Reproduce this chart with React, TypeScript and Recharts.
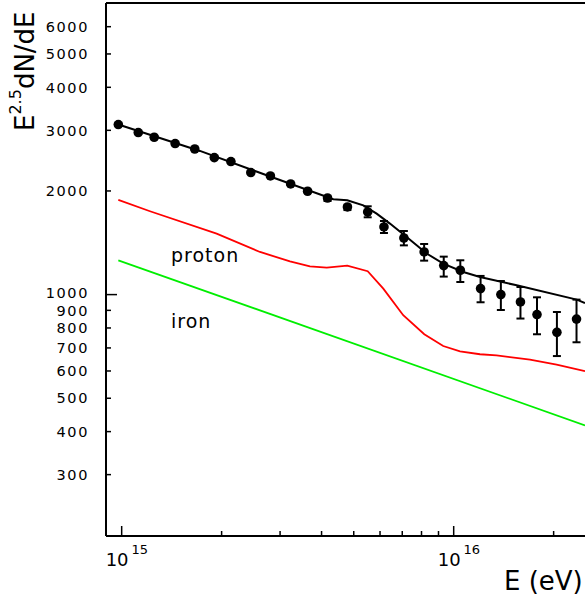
import { ComposedChart, Line, Scatter, ErrorBar, XAxis, YAxis, ReferenceLine } from "recharts";

// measured spectrum (E in eV, E^2.5 dN/dE)
const ENERGY = [
  9.77e14, 1.122e15, 1.253e15, 1.449e15, 1.66e15, 1.901e15, 2.133e15, 2.449e15, 2.805e15,
  3.228e15, 3.631e15, 4.169e15, 4.786e15, 5.508e15, 6.166e15, 7.079e15, 8.147e15, 9.333e15,
  1.047e16, 1.205e16, 1.387e16, 1.589e16, 1.782e16, 2.046e16, 2.344e16,
];
const FLUX = [
  3118, 2956, 2864, 2746, 2648, 2500, 2435, 2262, 2211, 2096, 1996, 1908, 1797, 1738, 1572,
  1460, 1330, 1214, 1177, 1041, 1000, 952, 875, 777, 849,
];
const ERR_LOW = [
  3095, 2935, 2845, 2725, 2630, 2480, 2415, 2245, 2195, 2080, 1980, 1870, 1760, 1677, 1510,
  1390, 1255, 1128, 1088, 950, 902, 852, 767, 663, 727,
];
const ERR_HIGH = [
  3140, 2975, 2885, 2765, 2665, 2520, 2455, 2280, 2230, 2110, 2010, 1925, 1815, 1805, 1636,
  1530, 1403, 1289, 1258, 1133, 1095, 1052, 982, 890, 967,
];

// fitted total
const FIT_E = [
  9.77e14, 1.721e15, 2.734e15, 4.339e15, 4.78e15, 5.342e15, 5.861e15, 6.427e15, 7.216e15,
  8.29e15, 9.3e15, 1.069e16, 1.2e16, 1.548e16, 2.348e16, 2.486e16,
];
const FIT_FLUX = [3118, 2614, 2221, 1892, 1879, 1817, 1719, 1608, 1470, 1316, 1230, 1163, 1125, 1064, 967, 945];

// proton component
const PROTON_E = [
  9.77e14, 1.217e15, 1.932e15, 2.61e15, 3.213e15, 3.69e15, 4.146e15, 4.78e15, 5.508e15,
  6.138e15, 7.047e15, 8.155e15, 9.3e15, 1.045e16, 1.2e16, 1.346e16, 1.697e16, 2.042e16, 2.486e16,
];
const PROTON_FLUX = [1883, 1746, 1504, 1330, 1249, 1208, 1198, 1214, 1169, 1041, 871, 767, 709, 684, 671, 666, 647, 626, 599];

// iron component
const IRON_E = [9.77e14, 2.486e16];
const IRON_FLUX = [1258, 417];

const X_TICKS = [1e15, 2e15, 3e15, 4e15, 5e15, 6e15, 7e15, 8e15, 9e15, 1e16, 2e16];
const Y_TICKS = [300, 400, 500, 600, 700, 800, 900, 1000, 2000, 3000, 4000, 5000, 6000];

const X_DOMAIN = [8.97e14, 2.486e16];
const Y_DOMAIN = [199, 7030];

const points = ENERGY.map((x, i) => ({
  x,
  y: FLUX[i],
  err: [FLUX[i] - ERR_LOW[i], ERR_HIGH[i] - FLUX[i]],
}));
const fit = FIT_E.map((x, i) => ({ x, y: FIT_FLUX[i] }));
const proton = PROTON_E.map((x, i) => ({ x, y: PROTON_FLUX[i] }));
const iron = IRON_E.map((x, i) => ({ x, y: IRON_FLUX[i] }));

const W = 585;
const H = 600;
const LEFT = 106;
const BOTTOM = 536;
const FONT = "DejaVu Sans";

function YTick(props: any) {
  const { y, payload } = props;
  const v = payload.value;
  const len = v === 1000 ? 11 : 5;
  // 1000 sits very close to 900, lift it a hair
  const shift = v === 1000 ? -1.5 : 0;
  return (
    <g>
      <line x1={LEFT} x2={LEFT + len} y1={y} y2={y} stroke="#000" strokeWidth={1.5} />
      <text x={LEFT - 17} y={y + shift} dy="0.36em" textAnchor="end" fontSize={14.5} letterSpacing={1.6} fontFamily={FONT} fill="#000">
        {v}
      </text>
    </g>
  );
}

function XTick(props: any) {
  const { x, payload } = props;
  const v = payload.value;
  const exp = Math.log10(v);
  const major = Math.abs(exp - Math.round(exp)) < 1e-6;
  return (
    <g>
      <line x1={x} x2={x} y1={BOTTOM} y2={BOTTOM - (major ? 10 : 5)} stroke="#000" strokeWidth={1.5} />
      {major && (
        <text x={x - 16} y={566} fontSize={18} fontFamily={FONT} fill="#000">
          10
          <tspan dx={3} dy={-12} fontSize={13}>
            {Math.round(exp)}
          </tspan>
        </text>
      )}
    </g>
  );
}

const Dot = (p: any) => <circle cx={p.cx} cy={p.cy} r={4.8} fill="#000" />;

export default function App() {
  return (
    <div style={{ position: "absolute", left: 0, top: 0, width: W, height: H, background: "#fff" }}>
      <ComposedChart width={W} height={H} margin={{ top: 3, right: 0, bottom: 0, left: 0 }}>
        <XAxis
          dataKey="x"
          type="number"
          scale="log"
          domain={X_DOMAIN}
          allowDataOverflow
          ticks={X_TICKS}
          interval={0}
          tick={<XTick />}
          tickLine={false}
          height={64}
          axisLine={{ stroke: "#000", strokeWidth: 2 }}
        />
        <YAxis
          type="number"
          scale="log"
          domain={Y_DOMAIN}
          allowDataOverflow
          ticks={Y_TICKS}
          interval={0}
          tick={<YTick />}
          tickLine={false}
          width={LEFT}
          axisLine={{ stroke: "#000", strokeWidth: 2 }}
        />
        <ReferenceLine y={Y_DOMAIN[1]} stroke="#000" strokeWidth={2} />
        <Line data={iron} dataKey="y" type="linear" stroke="#00ee00" strokeWidth={1.8} dot={false} isAnimationActive={false} />
        <Line data={proton} dataKey="y" type="linear" stroke="#ff0000" strokeWidth={1.8} dot={false} isAnimationActive={false} />
        <Line data={fit} dataKey="y" type="linear" stroke="#000" strokeWidth={2} dot={false} isAnimationActive={false} />
        <Scatter data={points} dataKey="y" shape={<Dot />} isAnimationActive={false}>
          <ErrorBar dataKey="err" direction="y" width={4} stroke="#000" strokeWidth={2} isAnimationActive={false} />
        </Scatter>
      </ComposedChart>
      <svg width={W} height={H} style={{ position: "absolute", left: 0, top: 0, pointerEvents: "none" }}>
        <text transform="rotate(-90, 34, 131)" x={34} y={131} fontSize={26} fontFamily={FONT} fill="#000">
          E
          <tspan dy={-13} fontSize={16}>
            2.5
          </tspan>
          <tspan dy={13}>dN/dE</tspan>
        </text>
        <text x={504} y={590} fontSize={26} fontFamily={FONT} fill="#000">
          E (eV)
        </text>
        <text x={171} y={262} fontSize={19} letterSpacing={1} fontFamily={FONT} fill="#000">
          proton
        </text>
        <text x={171} y={328} fontSize={19} letterSpacing={1} fontFamily={FONT} fill="#000">
          iron
        </text>
      </svg>
    </div>
  );
}
